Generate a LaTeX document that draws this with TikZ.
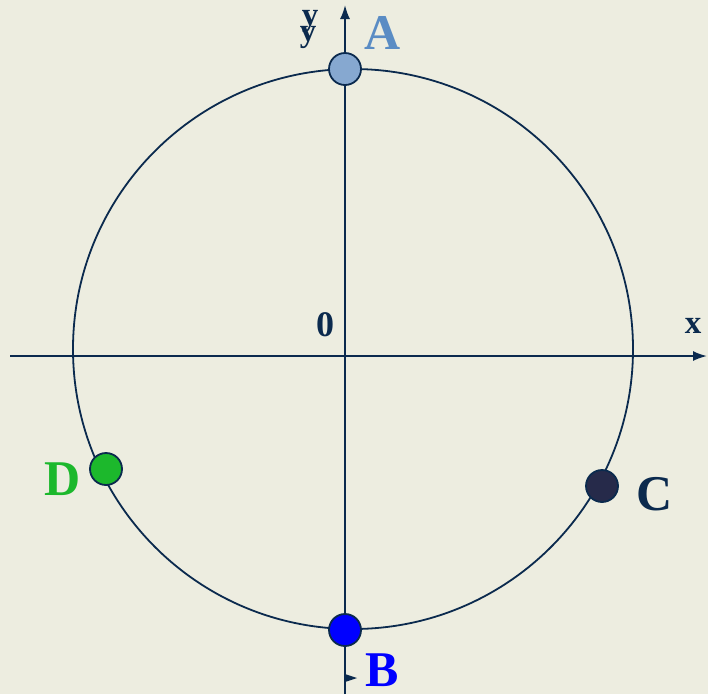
\documentclass[tikz,border=0pt]{standalone}
\usepackage{fontspec}
\setmainfont{Liberation Serif}
\usetikzlibrary{arrows.meta}
\definecolor{bg}{HTML}{EDEDE0}
\definecolor{navy}{HTML}{0B2A4E}
\definecolor{acol}{HTML}{5A8CC4}
\definecolor{afill}{HTML}{86A8D0}
\definecolor{bcol}{HTML}{0000FF}
\definecolor{cfill}{HTML}{262A4A}
\definecolor{dcol}{HTML}{1CB82C}
\tikzset{
  axis/.style={draw=navy, line width=1.8pt, -{Latex[length=14pt,width=10pt]}},
  dot/.style={circle, draw=navy, line width=1.8pt, minimum size=32pt, inner sep=0pt},
  lbl/.style={font=\fontsize{50}{50}\selectfont\bfseries, inner sep=0pt},
  small/.style={font=\fontsize{33}{33}\selectfont\bfseries, text=navy, inner sep=0pt}
}
\begin{document}
\begin{tikzpicture}[x=1pt,y=-1pt]
\fill[bg] (0,0) rectangle (708,694);
\useasboundingbox (0,0) rectangle (708,694);
% axes
\coordinate (xl) at (10,356);
\coordinate (xr) at (707,356);
\coordinate (yb) at (345,694);
\coordinate (yt) at (345,5);
\draw[axis] (xl) -- (xr);
\draw[axis] (yb) -- (yt);
% circle
\draw[navy, line width=1.8pt] (353,349) circle[radius=280];
% small tick arrow near B
\fill[navy] (345,674) -- (357,678) -- (345,682) -- cycle;
% dots
\node[dot, fill=afill] (A) at (345,69) {};
\node[dot, fill=bcol] (B) at (345,630) {};
\node[dot, fill=cfill] (C) at (602,486) {};
\node[dot, fill=dcol] (D) at (106,469) {};
% labels
\node[lbl, text=acol] (la) at (383,33) {A};
\node[lbl, text=bcol] (lb) at (382,670) {B};
\node[lbl, text=navy] (lc) at (655,494) {C};
\node[lbl, text=dcol] (ld) at (63,479) {D};
\node[small] (lx) at (693,326) {x};
\node[small, font=\fontsize{36}{36}\selectfont\bfseries] (l0) at (325,325) {0};
\node[small] (ly1) at (310,21) {y};
\node[small] (ly2) at (308,37) {y};
\end{tikzpicture}
\end{document}
